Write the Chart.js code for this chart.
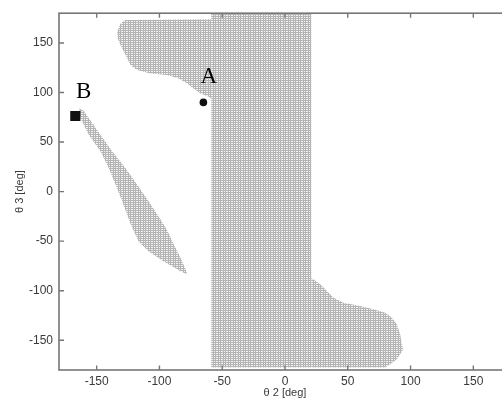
<!DOCTYPE html>
<html><head><meta charset="utf-8">
<style>
html,body{margin:0;padding:0;background:#fff;overflow:hidden;width:502px;height:403px}
#wrap{width:520px;height:403px;position:relative}
</style>
<script src="https://cdn.jsdelivr.net/npm/chart.js@4/dist/chart.umd.min.js"></script>
</head><body><div id="wrap"><canvas id="c" width="520" height="403"></canvas></div>
<script>
// ---- data ----
const xTicks = [-150, -100, -50, 0, 50, 100, 150];
const yTicks = [-150, -100, -50, 0, 50, 100, 150];
const xTitle = 'θ 2 [deg]';
const yTitle = 'θ 3 [deg]';

// boundary of the vertical band of reachable points [θ2, θ3]
const bandRegion = [[-58.8, 180], [20.9, 180], [20.9, -177.5], [-58.8, -177.5]];
// upper-left lobe joined to the band
const upperLobe = [[-58.8, 173.9], [-127, 173.2], [-131, 169.5], [-133.6, 161.1], [-133.1, 154.4],
  [-131, 147.7], [-128.3, 141], [-125.6, 134.3], [-123, 127.6], [-117.7, 122.6], [-107.1, 119.2],
  [-93.8, 117.6], [-84.6, 114.1], [-77.9, 109.1], [-72.7, 104.1], [-67.3, 99.1], [-60.7, 95.7], [-58.8, 93.7]];
// lower-right lobe joined to the band
const lowerLobe = [[20.9, -87.3], [22.7, -88.6], [28.1, -93.6], [33.4, -100.3], [38.6, -107.1],
  [46.6, -112.1], [59.9, -115.5], [70.4, -118.8], [79.8, -122.2], [85.1, -127.2], [89.1, -133.9],
  [91.7, -143.9], [93.0, -154], [94.3, -159], [91.7, -164], [89.1, -169.1], [83.7, -174.1],
  [79.8, -177.5], [20.9, -177.5]];
// isolated diagonal strip
const stripRegion = [[-164.1, 84], [-160.5, 81.5], [-156.2, 73.9], [-146.9, 57.2], [-137.6, 40.4],
  [-127, 23.6], [-117.7, 6.9], [-108.5, -9.9], [-100.8, -24.9], [-94.5, -37.5], [-89.8, -50.1], [-81.9, -70.2],
  [-79.4, -78.2], [-77.7, -83.6], [-83.2, -80.3], [-96.8, -70.2], [-108.7, -60.2], [-116.7, -50.1],
  [-122.2, -35], [-126.2, -21.9], [-129.6, -9.9], [-134.9, 6.9], [-140.3, 23.6], [-146.9, 40.4],
  [-156.2, 57.2], [-162.8, 73.9]];

// marked configurations
const pointA = [-65, 90];
const pointB = [-167, 76.3];
const labelA = ['A', -60.7, 115.9];
const labelB = ['B', -160.4, 100.8];

// ---- chart ----
const canvas = document.getElementById('c');
const ctx0 = canvas.getContext('2d');
function makePattern() {
  const c = document.createElement('canvas'); c.width = 5; c.height = 4;
  const g = c.getContext('2d');
  g.fillStyle = '#f2f2f2'; g.fillRect(0, 0, 5, 4);
  g.fillStyle = '#b4b4b4';
  g.fillRect(0, 0, 1, 4); g.fillRect(3, 0, 1, 4);
  g.fillRect(0, 0, 5, 1); g.fillRect(0, 2, 5, 1);
  return ctx0.createPattern(c, 'repeat');
}
const pattern = makePattern();
const toXY = arr => arr.map(p => ({x: p[0], y: p[1]}));

function regionSet(label, arr) {
  return {label, region: true, data: toXY(arr), pointRadius: 0, pointHoverRadius: 0,
    showLine: false, backgroundColor: 'rgba(0,0,0,0)', borderColor: 'rgba(0,0,0,0)'};
}

const regionPlugin = {
  id: 'regions',
  beforeDatasetsDraw(chart) {
    const {ctx, chartArea: a} = chart;
    ctx.save();
    ctx.beginPath(); ctx.rect(a.left, a.top, a.right - a.left, a.bottom - a.top); ctx.clip();
    chart.data.datasets.forEach((ds, i) => {
      if (!ds.region) return;
      const pts = chart.getDatasetMeta(i).data;
      ctx.beginPath();
      pts.forEach((p, j) => j ? ctx.lineTo(p.x, p.y) : ctx.moveTo(p.x, p.y));
      ctx.closePath();
      ctx.fillStyle = pattern;
      ctx.fill();
    });
    ctx.restore();
  }
};

const framePlugin = {
  id: 'frame',
  afterDatasetsDraw(chart) {
    const {ctx, chartArea: a, scales: {x, y}} = chart;
    ctx.save();
    ctx.strokeStyle = '#767676';
    ctx.lineWidth = 1.6;
    ctx.strokeRect(a.left, a.top, a.right - a.left, a.bottom - a.top);
    ctx.lineWidth = 1.4;
    ctx.beginPath();
    xTicks.forEach(v => {
      const px = x.getPixelForValue(v);
      ctx.moveTo(px, a.bottom); ctx.lineTo(px, a.bottom - 4.5);
      ctx.moveTo(px, a.top); ctx.lineTo(px, a.top + 4.5);
    });
    yTicks.forEach(v => {
      const py = y.getPixelForValue(v);
      ctx.moveTo(a.left, py); ctx.lineTo(a.left + 5, py);
      ctx.moveTo(a.right, py); ctx.lineTo(a.right - 5, py);
    });
    ctx.stroke();
    // point labels
    ctx.fillStyle = '#000';
    ctx.font = '23px "Liberation Serif", serif';
    ctx.textAlign = 'center';
    ctx.textBaseline = 'middle';
    [labelA, labelB].forEach(l => {
      ctx.fillText(l[0], x.getPixelForValue(l[1]), y.getPixelForValue(l[2]));
    });
    ctx.restore();
  }
};

new Chart(canvas, {
  type: 'scatter',
  data: {
    datasets: [
      {label: 'A', data: toXY([pointA]), pointStyle: 'circle', pointRadius: 3.8, pointHoverRadius: 3.8,
        backgroundColor: '#111', borderColor: '#111', borderWidth: 0},
      {label: 'B', data: toXY([pointB]), pointStyle: 'rect', pointRadius: 7.2, pointHoverRadius: 7.2,
        backgroundColor: '#111', borderColor: '#111', borderWidth: 0},
      regionSet('band', bandRegion),
      regionSet('upper', upperLobe),
      regionSet('lower', lowerLobe),
      regionSet('strip', stripRegion)
    ]
  },
  options: {
    responsive: false,
    animation: false,
    devicePixelRatio: 1,
    layout: {padding: {top: 12, right: 9, left: 0, bottom: 0}},
    plugins: {legend: {display: false}, tooltip: {enabled: false}},
    events: [],
    scales: {
      x: {
        type: 'linear', min: -180, max: 180,
        afterBuildTicks: s => { s.ticks = xTicks.map(v => ({value: v})); },
        afterFit: s => { s.height = 33; },
        grid: {display: false, drawTicks: false},
        border: {display: false},
        ticks: {color: '#3a3a3a', padding: 4, maxRotation: 0, autoSkip: false,
          font: {family: '"Liberation Sans", Arial, sans-serif', size: 12}},
        title: {display: true, text: xTitle, color: '#3a3a3a', padding: {top: 0, bottom: 3},
          font: {family: '"Liberation Sans", Arial, sans-serif', size: 11}}
      },
      y: {
        type: 'linear', min: -180, max: 180,
        afterBuildTicks: s => { s.ticks = yTicks.map(v => ({value: v})); },
        afterFit: s => { s.width = 59; },
        grid: {display: false, drawTicks: false},
        border: {display: false},
        ticks: {color: '#3a3a3a', padding: 6, autoSkip: false,
          font: {family: '"Liberation Sans", Arial, sans-serif', size: 12}},
        title: {display: true, text: yTitle, color: '#3a3a3a', padding: {top: 13, bottom: 0},
          font: {family: '"Liberation Sans", Arial, sans-serif', size: 11}}
      }
    }
  },
  plugins: [regionPlugin, framePlugin]
});
</script>
</body></html>
